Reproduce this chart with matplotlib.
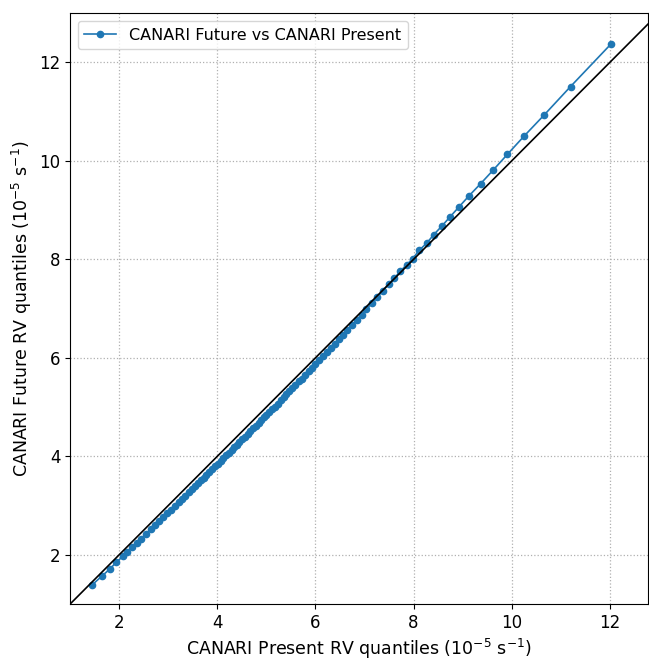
import numpy as np
import matplotlib
matplotlib.use('Agg')
import matplotlib.pyplot as plt

# cuantiles 1..99 (10^-5 s^-1)
present_q = [1.45, 1.65, 1.82, 1.94, 2.08, 2.16, 2.27, 2.36, 2.45, 2.55,
             2.64, 2.73, 2.81, 2.90, 2.98, 3.06, 3.14, 3.21, 3.28, 3.35,
             3.42, 3.48, 3.54, 3.60, 3.66, 3.72, 3.78, 3.84, 3.90, 3.96,
             4.01, 4.07, 4.12, 4.18, 4.23, 4.29, 4.34, 4.40, 4.45, 4.51,
             4.56, 4.62, 4.67, 4.73, 4.78, 4.84, 4.89, 4.95, 5.00, 5.06,
             5.12, 5.17, 5.23, 5.29, 5.35, 5.41, 5.47, 5.53, 5.59, 5.66,
             5.72, 5.79, 5.86, 5.93, 6.00, 6.07, 6.15, 6.23, 6.31, 6.39,
             6.48, 6.56, 6.65, 6.74, 6.84, 6.94, 7.04, 7.15, 7.26, 7.37,
             7.49, 7.61, 7.73, 7.86, 7.98, 8.12, 8.27, 8.41, 8.58, 8.75,
             8.93, 9.13, 9.37, 9.62, 9.91, 10.25, 10.66, 11.20, 12.03]

future_q = [1.39, 1.57, 1.72, 1.85, 1.97, 2.05, 2.16, 2.24, 2.33, 2.43,
            2.52, 2.60, 2.68, 2.77, 2.84, 2.92, 3.00, 3.07, 3.13, 3.20,
            3.27, 3.33, 3.39, 3.45, 3.51, 3.56, 3.62, 3.68, 3.74, 3.80,
            3.85, 3.91, 3.96, 4.02, 4.07, 4.13, 4.18, 4.24, 4.29, 4.35,
            4.40, 4.46, 4.51, 4.57, 4.62, 4.68, 4.73, 4.79, 4.84, 4.90,
            4.96, 5.01, 5.07, 5.14, 5.20, 5.26, 5.32, 5.38, 5.45, 5.52,
            5.58, 5.65, 5.73, 5.80, 5.87, 5.95, 6.03, 6.12, 6.20, 6.29,
            6.38, 6.47, 6.57, 6.66, 6.77, 6.88, 6.99, 7.11, 7.23, 7.36,
            7.49, 7.62, 7.76, 7.89, 8.01, 8.19, 8.33, 8.50, 8.68, 8.87,
            9.07, 9.29, 9.54, 9.81, 10.13, 10.50, 10.93, 11.51, 12.38]

fig = plt.figure(figsize=(6.49, 6.58), dpi=100)
ax = fig.add_axes([0.108, 0.082, 0.8906, 0.898])

ax.plot(present_q, future_q, 'o-', color='#1f77b4', ms=4.5, lw=1.2,
        label='CANARI Future vs CANARI Present')
ax.axline((1, 1), slope=1, color='black', lw=1.2)

ax.set_xlim(1, 12.78)
ax.set_ylim(1, 13.0)
ax.set_xticks([2, 4, 6, 8, 10, 12])
ax.set_yticks([2, 4, 6, 8, 10, 12])
ax.grid(True, linestyle=':', color='#b0b0b0', lw=0.9)
ax.tick_params(labelsize=12)

ax.set_xlabel(r'CANARI Present RV quantiles ($10^{-5}$ s$^{-1}$)', fontsize=12.5)
ax.set_ylabel(r'CANARI Future RV quantiles ($10^{-5}$ s$^{-1}$)', fontsize=12.5)
ax.legend(loc='upper left', fontsize=11.5)

plt.savefig('out.png')
